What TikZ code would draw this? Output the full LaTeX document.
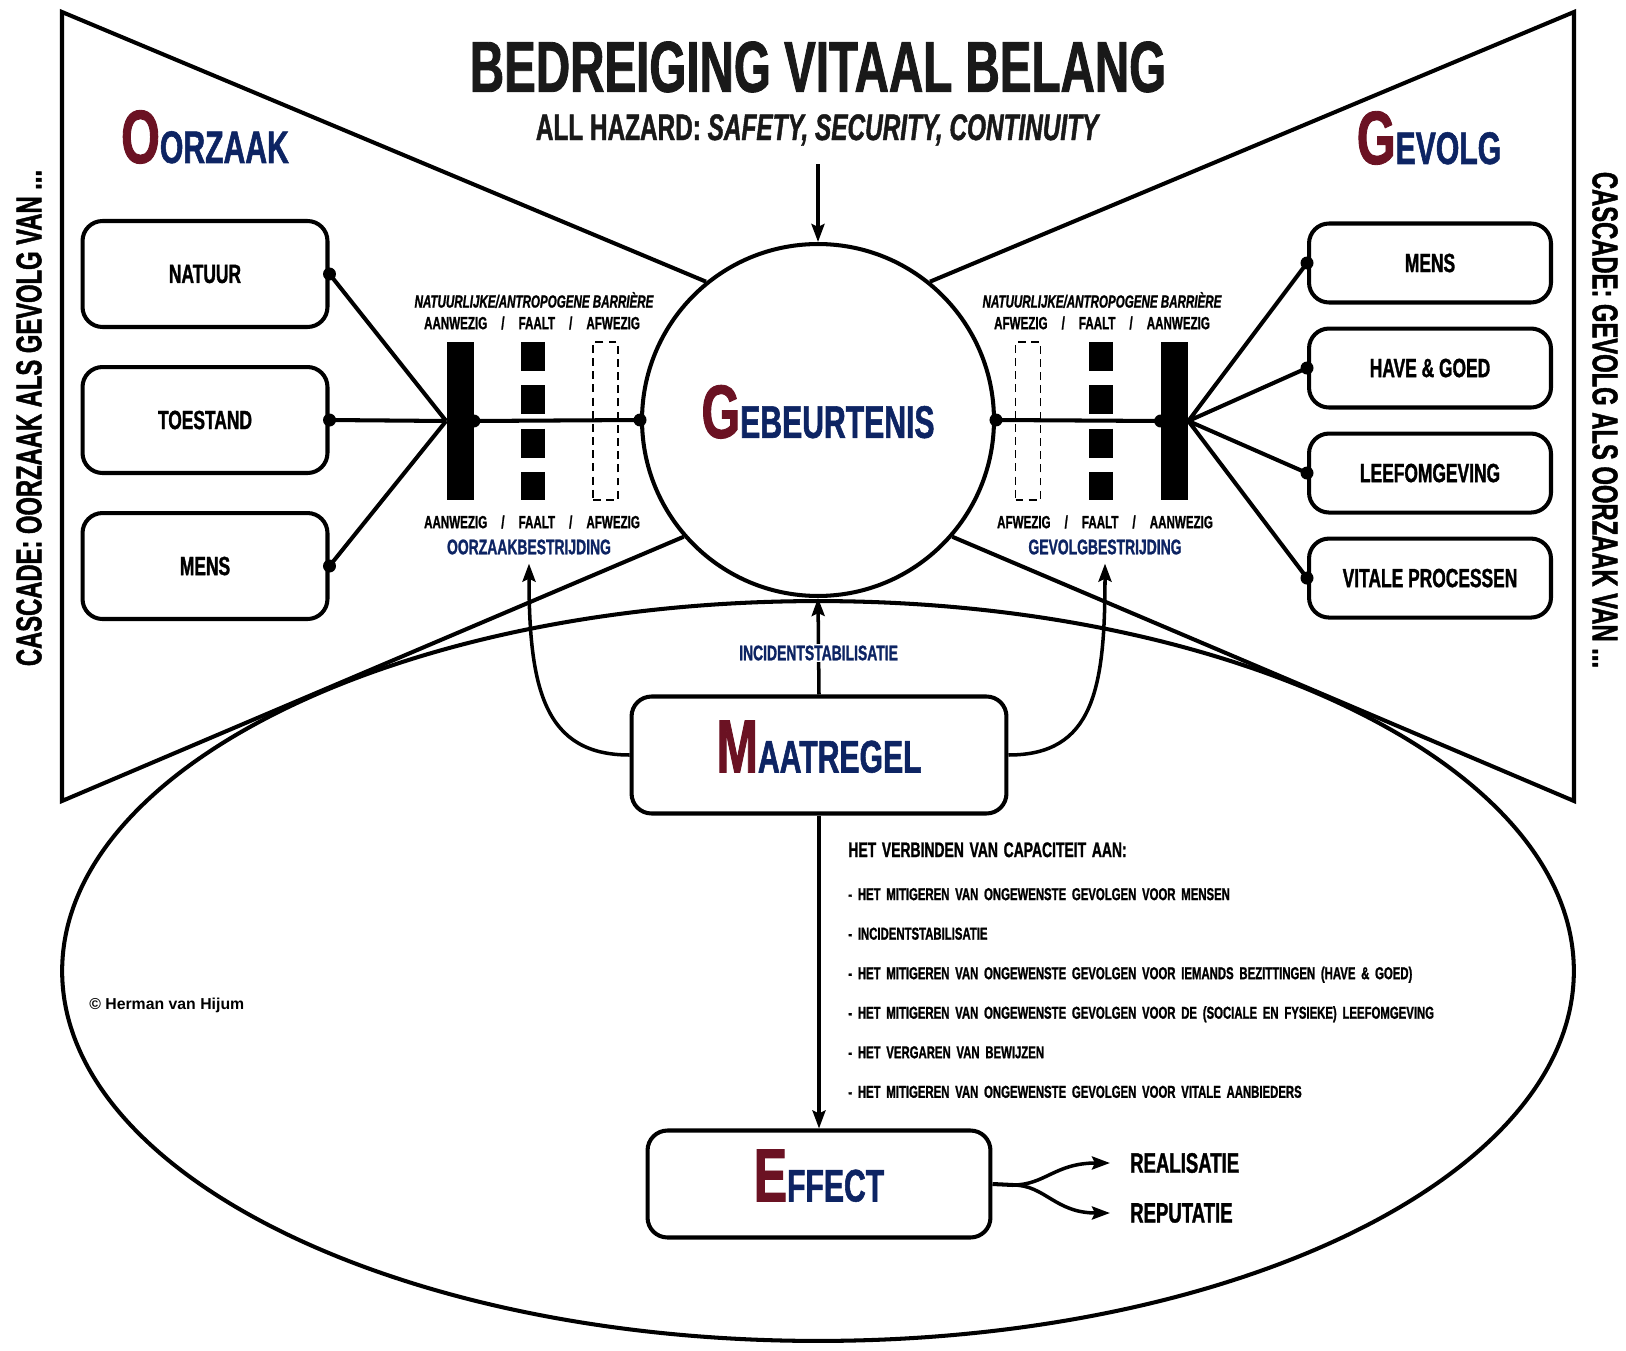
\documentclass[tikz,border=0pt]{standalone}
\usepackage{fontspec}
\usepackage{tikz}
\usetikzlibrary{calc,positioning,arrows.meta}
\newfontfamily\impact[FakeStretch=0.66, FakeBold=1.2, UprightFont={Liberation Sans Bold}, ItalicFont={Liberation Sans Bold Italic}]{Liberation Sans}
\newfontfamily\arialfont[UprightFont={Liberation Sans Bold}]{Liberation Sans}
\definecolor{bowred}{HTML}{6B1223}
\definecolor{bowblue}{HTML}{0D2463}
\newcommand\bowfont[1]{\impact\fontsize{#1}{#1}\selectfont}
\newcommand\capword[2]{{\color{bowred}\bowfont{43}#1}{\color{bowblue}\bowfont{26}#2}}

\begin{document}
\begin{tikzpicture}[x=0.02cm, y=-0.02cm,
  outline/.style={line width=2.3pt},
  arr/.style={line width=2pt, -{Stealth[length=0.36cm,width=0.26cm,inset=0.06cm]}},
  causebox/.style={draw, outline, fill=white, rounded corners=0.4cm, minimum width=4.9cm, minimum height=2.12cm, font=\bowfont{15}},
  conseqbox/.style={causebox, minimum width=4.84cm, minimum height=1.58cm},
  bigbox/.style={draw, outline, fill=white, rounded corners=0.4cm, text depth=0.34cm},
  barlabel/.style={inner sep=0pt, font=\bowfont{10}},
  fightlabel/.style={inner sep=1pt, text=bowblue, font=\bowfont{12}},
  solidbar/.style={fill, inner sep=0pt, minimum width=0.54cm, minimum height=3.16cm},
  gonebar/.style={draw, line width=0.8pt, dash pattern=on 4.5pt off 3pt, inner sep=0pt, minimum width=0.5cm, minimum height=3.16cm},
  failbar/.style={line width=0.48cm, dash pattern=on 0.58cm off 0.286cm}]
\useasboundingbox (0,0) rectangle (1626,1351);

\draw[outline] (818,971) ellipse [x radius=15.12cm, y radius=7.4cm];
\node[draw, outline, circle, fill=white, minimum size=7.04cm, inner sep=0pt, text depth=0.34cm] (ev) at (818,420) {\capword{G}{EBEURTENIS}};
\draw[outline] (ev.129) -- (62,12) -- (62,801) -- (ev.221);
\draw[outline] (ev.51) -- (1574,12) -- (1574,801) -- (ev.-41);

\node[font=\bowfont{41}, text=black!90] (title) at (818,67) {BEDREIGING VITAAL BELANG};
\node[font=\bowfont{21}, text=black!90] (hazard) at (818,130) {ALL HAZARD: \textit{SAFETY, SECURITY, CONTINUITY}};
\draw[arr] ([yshift=-0.25cm]hazard.south) -- (ev.north);

\node[anchor=base, inner sep=0pt] (oorzaak) at (205,163) {\capword{O}{ORZAAK}};
\node[anchor=base, inner sep=0pt] (gevolg) at (1429,164) {\capword{G}{EVOLG}};

\node[rotate=90, font=\bowfont{20.5}] (cascl) at (29,418) {CASCADE: OORZAAK ALS GEVOLG VAN ...};
\node[rotate=-90, font=\bowfont{20.5}] (cascr) at (1605,420) {CASCADE: GEVOLG ALS OORZAAK VAN ...};

\node[causebox] (natuur) at (205,274) {NATUUR};
\node[causebox, below=0.72cm of natuur] (toestand) {TOESTAND};
\node[causebox, below=0.72cm of toestand] (oorzmens) {MENS};

\node[conseqbox] (gmens) at (1430,263) {MENS};
\node[conseqbox, below=0.44cm of gmens] (have) {HAVE \& GOED};
\node[conseqbox, below=0.44cm of have] (leef) {LEEFOMGEVING};
\node[conseqbox, below=0.44cm of leef] (vitaal) {VITALE PROCESSEN};

% barrieres
\node[solidbar] (lbar) at (460,421) {};
\draw[failbar] (533,342) -- (533,500);
\node[gonebar] (lgone) at (605.5,421) {};
\node[gonebar] (rgone) at (1028,421) {};
\draw[failbar] (1101,342) -- (1101,500);
\node[solidbar] (rbar) at (1174.5,421) {};

\draw[outline] (natuur.east) -- (lbar.west) (toestand.east) -- (lbar.west)
  (oorzmens.east) -- (lbar.west) (lbar.east) -- (ev.west);
\draw[outline] (ev.east) -- (rbar.west) (rbar.east) -- (gmens.west)
  (rbar.east) -- (have.west) (rbar.east) -- (leef.west) (rbar.east) -- (vitaal.west);
\fill (natuur.east) circle (0.13cm) (toestand.east) circle (0.13cm) (oorzmens.east) circle (0.13cm)
  (lbar.east) circle (0.13cm) (ev.west) circle (0.13cm) (ev.east) circle (0.13cm) (rbar.west) circle (0.13cm)
  (gmens.west) circle (0.13cm) (have.west) circle (0.13cm) (leef.west) circle (0.13cm) (vitaal.west) circle (0.13cm);

\node[barlabel, font=\bowfont{10}\itshape] (lnat) at (534,300) {NATUURLIJKE/ANTROPOGENE BARRIÈRE};
\node[barlabel] (ltop) at (532,323) {AANWEZIG\hspace{0.8em}/\hspace{0.8em}FAALT\hspace{0.8em}/\hspace{0.8em}AFWEZIG};
\node[barlabel] (lbot) at (532,522) {AANWEZIG\hspace{0.8em}/\hspace{0.8em}FAALT\hspace{0.8em}/\hspace{0.8em}AFWEZIG};
\node[fightlabel] (oorbes) at (529,547) {OORZAAKBESTRIJDING};
\node[barlabel, font=\bowfont{10}\itshape] (rnat) at (1102,300) {NATUURLIJKE/ANTROPOGENE BARRIÈRE};
\node[barlabel] (rtop) at (1102,323) {AFWEZIG\hspace{0.8em}/\hspace{0.8em}FAALT\hspace{0.8em}/\hspace{0.8em}AANWEZIG};
\node[barlabel] (rbot) at (1105,522) {AFWEZIG\hspace{0.8em}/\hspace{0.8em}FAALT\hspace{0.8em}/\hspace{0.8em}AANWEZIG};
\node[fightlabel] (gevbes) at (1105,547) {GEVOLGBESTRIJDING};

\node[bigbox, minimum width=7.5cm, minimum height=2.34cm] (maat) at (819,755) {\capword{M}{AATREGEL}};
\node[bigbox, minimum width=6.86cm, minimum height=2.14cm] (eff) at (819,1184) {\capword{E}{FFECT}};

\draw[arr] (maat.north) -- node[fightlabel, fill=white, pos=0.43] (stab) {INCIDENTSTABILISATIE} (ev.south);
\draw[arr] (maat.west) .. controls (545,755) and (529,690) .. ([yshift=-4pt]oorbes.south);
\draw[arr] (maat.east) .. controls (1093,755) and (1105,690) .. ([yshift=-4pt]gevbes.south);
\draw[arr] (maat.south) -- (eff.north);

\node[anchor=north west, inner sep=0pt, text width=14cm, align=left,
  font=\impact\fontsize{9.8}{22.5}\selectfont] (caps) at (848,842)
  {{\fontsize{12}{22.5}\selectfont HET VERBINDEN VAN CAPACITEIT AAN:}\\[2pt]
  - HET MITIGEREN VAN ONGEWENSTE GEVOLGEN VOOR MENSEN\\
  - INCIDENTSTABILISATIE\\
  - HET MITIGEREN VAN ONGEWENSTE GEVOLGEN VOOR IEMANDS BEZITTINGEN (HAVE \& GOED)\\
  - HET MITIGEREN VAN ONGEWENSTE GEVOLGEN VOOR DE (SOCIALE EN FYSIEKE) LEEFOMGEVING\\
  - HET VERGAREN VAN BEWIJZEN\\
  - HET MITIGEREN VAN ONGEWENSTE GEVOLGEN VOOR VITALE AANBIEDERS};

\node[anchor=west, inner sep=0pt, font=\arialfont\fontsize{9}{10}\selectfont] (copy) at (89,1005) {© Herman van Hijum};

\coordinate (split) at (1013,1185);
\node[anchor=west, font=\bowfont{16}] (real) at (1124,1163) {REALISATIE};
\node[anchor=west, font=\bowfont{16}] (repu) at (1124,1213) {REPUTATIE};
\draw[outline] (eff.east) -- (split);
\draw[arr] (split) .. controls (1045,1185) and (1055,1163) .. ([xshift=-0.28cm]real.west);
\draw[arr] (split) .. controls (1045,1185) and (1055,1213) .. ([xshift=-0.28cm]repu.west);
\end{tikzpicture}
\end{document}
